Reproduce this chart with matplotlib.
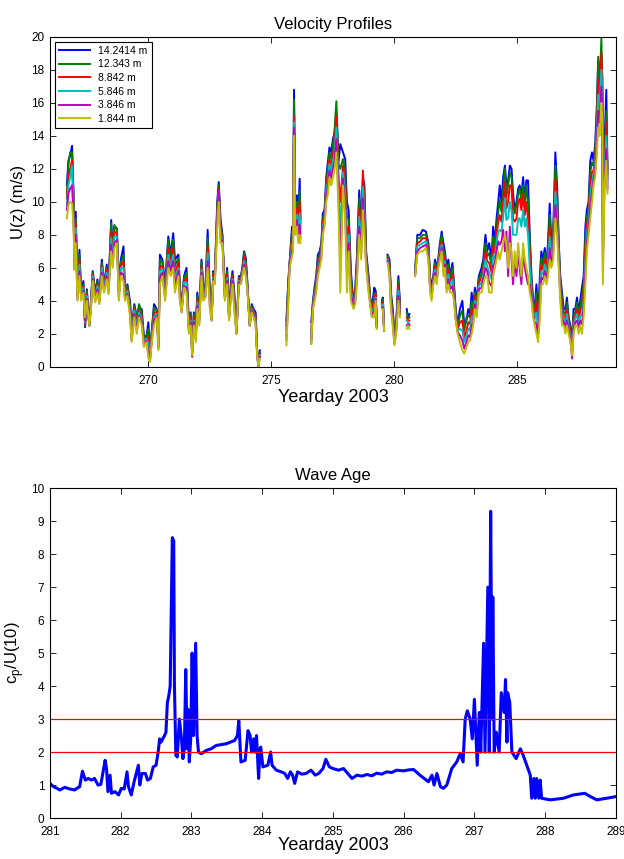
import numpy as np
import matplotlib
matplotlib.use("Agg")
import matplotlib.pyplot as plt

plt.rcParams['font.family'] = ['Liberation Sans', 'DejaVu Sans']

N = np.nan

# ---- top panel: wind speed at six heights ----
day = [266.69, 266.75, 266.82, 266.90, 266.96, 267.00, 267.05, 267.12, 267.20, 267.27,
       267.36, 267.43, 267.50, 267.60, 267.66, 267.74, 267.84, 267.93, 268.01, 268.11,
       268.20, 268.31, 268.38, 268.49, 268.55, 268.62, 268.72, 268.80, 268.88, 268.99,
       269.05, 269.15, 269.26, 269.32, 269.43, 269.53, 269.62, 269.73, 269.82, 269.93,
       270.00, 270.07, 270.14, 270.23, 270.34, 270.41, 270.47, 270.57, 270.68, 270.81,
       270.91, 271.01, 271.08, 271.22, 271.28, 271.35, 271.45, 271.55, 271.65, 271.72,
       271.78, 271.85, 271.93, 271.99, 272.07, 272.16, 272.23, 272.32, 272.41, 272.50,
       272.57, 272.64, 272.70, 272.80, 272.86, 272.93, 273.01, 273.11, 273.20, 273.28,
       273.35, 273.42, 273.49, 273.58, 273.68, 273.76, 273.82, 273.89, 273.96, 274.03,
       274.12, 274.20, 274.28, 274.36, 274.42, 274.47, 274.53, 275.00,
       275.61, 275.69, 275.74, 275.84, 275.88, 275.92, 275.97, 276.04, 276.09, 276.15, 276.18, 276.40,
       276.62, 276.69, 276.76, 276.82, 276.89, 276.96, 277.03, 277.09, 277.16, 277.23,
       277.30, 277.36, 277.43, 277.50, 277.57, 277.64, 277.73, 277.80, 277.91, 278.00,
       278.07, 278.14, 278.23, 278.34, 278.41, 278.47, 278.57, 278.65, 278.72, 278.78,
       278.85, 278.95, 279.01, 279.08, 279.18, 279.24, 279.28, 279.40,
       279.49, 279.53, 279.58, 279.65,
       279.72, 279.80, 279.86, 279.93, 280.00, 280.07, 280.16, 280.23, 280.35,
       280.50, 280.55, 280.61, 280.72,
       280.84, 280.93, 281.04, 281.15, 281.28, 281.38, 281.45, 281.51, 281.58, 281.65,
       281.72, 281.78, 281.85, 281.92, 281.99, 282.05, 282.12, 282.19, 282.26, 282.36,
       282.42, 282.49, 282.57, 282.66, 282.76, 282.84, 282.93, 283.00, 283.07, 283.14,
       283.20, 283.27, 283.34, 283.43, 283.54, 283.61, 283.70, 283.77, 283.85, 283.95,
       284.01, 284.08, 284.15, 284.22, 284.28, 284.35, 284.42, 284.49, 284.55, 284.62,
       284.69, 284.76, 284.82, 284.89, 284.96, 285.03, 285.09, 285.16, 285.23, 285.30,
       285.36, 285.43, 285.50, 285.57, 285.64, 285.70, 285.77, 285.84, 285.91, 285.97,
       286.04, 286.11, 286.18, 286.24, 286.31, 286.38, 286.45, 286.54, 286.61, 286.68,
       286.74, 286.81, 286.88, 286.95, 287.01, 287.08, 287.15, 287.22, 287.28, 287.35,
       287.42, 287.49, 287.55, 287.62, 287.69, 287.76, 287.82, 287.89, 287.96, 288.03,
       288.09, 288.16, 288.23, 288.28, 288.34, 288.41, 288.45, 288.47, 288.54, 288.61, 288.66]

u14 = [11.0, 12.5, 12.8, 13.4, 10.5, 6.2, 9.4, 4.5, 7.1, 4.5,
       5.2, 2.4, 4.7, 2.6, 3.8, 5.8, 4.5, 5.3, 4.3, 6.5,
       5.0, 6.2, 4.8, 8.9, 7.0, 8.5, 8.4, 5.0, 6.5, 7.3,
       4.5, 5.0, 3.9, 2.2, 3.8, 3.0, 3.6, 3.5, 1.8, 1.9,
       2.7, 0.8, 2.2, 3.8, 3.5, 1.5, 6.8, 6.5, 5.0, 7.9,
       6.8, 8.1, 6.5, 6.8, 5.0, 3.5, 5.5, 6.0, 2.5, 3.3,
       1.0, 3.3, 2.5, 4.5, 3.3, 6.5, 5.0, 4.8, 8.3, 4.5,
       3.0, 5.8, 5.5, 10.0, 11.2, 9.0, 8.0, 4.5, 6.0, 3.2,
       5.0, 5.8, 4.5, 2.2, 5.5, 5.5, 6.0, 7.0, 6.6, 5.0,
       2.6, 3.8, 3.5, 3.3, 1.0, 0.1, 1.0, N,
       2.8, 5.3, 6.3, 8.5, 8.3, 16.8, 9.5, 10.4, 9.0, 11.4, 9.0, N,
       2.7, 4.0, 4.9, 5.5, 6.8, 7.0, 7.5, 9.3, 9.5, 11.5,
       12.5, 13.3, 13.0, 13.8, 14.2, 15.5, 12.5, 13.5, 13.0, 12.6,
       10.0, 9.5, 5.8, 3.8, 4.8, 6.5, 10.7, 8.5, 11.5, 11.0,
       7.0, 5.5, 4.3, 3.5, 4.8, 4.6, 2.6, N,
       4.0, 4.2, 2.3, N,
       6.8, 6.5, 4.5, 3.5, 2.0, 2.5, 5.5, 3.8, N,
       3.5, 3.0, 3.2, N,
       5.8, 8.0, 8.0, 8.3, 8.2, 7.5, 5.5, 4.8, 5.5, 6.5,
       6.0, 6.5, 7.5, 8.2, 7.5, 7.0, 6.0, 6.5, 5.5, 6.3,
       5.0, 3.5, 2.5, 3.5, 4.0, 2.5, 2.8, 3.5, 3.2, 4.5,
       3.5, 4.8, 4.0, 5.5, 6.0, 6.5, 8.0, 7.0, 7.5, 6.5,
       8.5, 7.5, 9.0, 10.0, 11.0, 10.0, 11.5, 12.2, 11.0, 11.3,
       12.2, 12.0, 10.5, 9.5, 10.0, 10.8, 11.0, 10.3, 11.5, 10.0,
       11.3, 11.3, 8.0, 5.5, 4.0, 3.5, 5.0, 3.0, 5.5, 7.0,
       6.5, 7.2, 6.0, 7.5, 9.9, 7.5, 8.0, 13.0, 11.0, 7.5,
       5.5, 4.5, 3.5, 3.5, 4.2, 3.0, 2.5, 1.5, 3.5, 3.5,
       4.2, 3.3, 4.0, 4.8, 5.5, 8.5, 9.5, 10.0, 12.5, 13.0,
       12.5, 13.5, 16.0, 18.5, 17.5, 19.0, 17.5, 9.0, 13.5, 16.8, 12.0]

u12 = [10.5, 12.2, 13.0, 13.0, 10.2, 6.1, 9.0, 4.4, 6.8, 4.4,
       5.0, 2.5, 4.6, 2.6, 3.7, 5.7, 4.4, 5.2, 4.2, 6.3,
       4.9, 6.0, 4.7, 8.7, 6.8, 8.6, 8.3, 4.8, 6.3, 6.8,
       4.4, 4.9, 3.7, 2.1, 3.7, 2.9, 3.8, 3.3, 1.7, 1.8,
       2.3, 0.7, 2.1, 3.6, 3.4, 1.4, 6.5, 6.3, 4.8, 7.7,
       6.6, 7.7, 6.1, 6.6, 4.8, 3.5, 5.4, 5.7, 2.4, 3.2,
       0.9, 3.2, 2.3, 4.3, 3.2, 6.4, 4.8, 4.7, 7.8, 4.3,
       3.0, 5.7, 5.4, 9.7, 11.0, 8.7, 7.9, 4.4, 5.8, 3.1,
       4.8, 5.6, 4.3, 2.2, 5.4, 5.4, 5.9, 6.9, 6.4, 4.9,
       2.6, 3.7, 3.4, 3.1, 0.9, 0.1, 0.9, N,
       2.5, 5.1, 6.3, 8.2, 8.0, 16.2, 9.2, 10.0, 8.7, 10.7, 8.7, N,
       1.4, 3.9, 4.7, 5.3, 6.5, 6.8, 7.3, 9.0, 9.3, 11.2,
       12.1, 13.0, 12.6, 13.4, 14.4, 16.1, 12.3, 12.0, 12.6, 11.9,
       9.0, 9.0, 5.4, 3.7, 4.6, 6.2, 10.2, 8.1, 11.4, 10.4,
       6.8, 5.3, 4.2, 3.4, 4.4, 4.5, 2.5, N,
       3.9, 4.1, 2.3, N,
       6.7, 6.3, 4.3, 3.3, 1.9, 2.4, 5.2, 3.6, N,
       3.3, 2.9, 3.0, N,
       5.7, 7.8, 7.8, 8.0, 8.0, 7.3, 5.3, 4.6, 5.4, 6.3,
       5.8, 6.4, 7.3, 8.0, 7.1, 6.8, 5.7, 6.2, 5.3, 6.0,
       4.8, 3.4, 2.4, 3.1, 3.4, 2.2, 3.0, 3.1, 3.0, 4.0,
       3.3, 4.5, 3.8, 5.3, 5.7, 6.2, 7.5, 6.7, 6.9, 6.1,
       7.9, 7.2, 8.5, 9.4, 10.1, 9.4, 10.7, 12.0, 10.3, 11.0,
       11.8, 11.5, 10.0, 9.3, 9.8, 10.5, 10.8, 10.0, 11.0, 9.7,
       11.0, 10.0, 7.5, 5.2, 3.8, 3.3, 4.5, 2.7, 5.0, 6.6,
       6.2, 6.9, 5.8, 7.1, 9.2, 7.2, 7.7, 12.2, 10.4, 7.2,
       5.2, 4.1, 3.3, 3.2, 3.9, 2.8, 2.3, 1.3, 3.2, 3.3,
       3.9, 3.0, 3.7, 4.2, 5.0, 7.8, 9.0, 9.6, 11.8, 12.4,
       12.2, 13.1, 15.4, 18.8, 17.0, 19.9, 17.0, 8.2, 13.0, 15.5, 11.7]

u8 = [10.2, 11.5, 12.0, 12.5, 9.8, 6.0, 8.7, 4.3, 6.5, 4.3,
      4.9, 2.6, 4.4, 2.5, 3.6, 5.6, 4.3, 5.0, 4.1, 6.1,
      4.8, 5.9, 4.7, 8.2, 6.6, 8.2, 8.1, 4.6, 6.1, 6.4,
      4.3, 4.7, 3.5, 1.9, 3.5, 2.6, 3.4, 3.1, 1.6, 1.7,
      1.8, 0.6, 1.9, 3.3, 3.3, 1.3, 6.1, 6.1, 4.6, 7.2,
      6.3, 7.2, 5.7, 6.3, 4.6, 3.4, 5.2, 5.4, 2.3, 3.0,
      0.9, 3.0, 2.1, 4.1, 3.0, 6.1, 4.6, 4.6, 7.3, 4.1,
      2.9, 5.6, 5.3, 9.4, 10.8, 8.4, 7.8, 4.3, 5.6, 3.0,
      4.6, 5.5, 4.1, 2.1, 5.3, 5.3, 5.8, 6.7, 6.1, 4.8,
      2.5, 3.6, 3.3, 3.0, 0.9, 0.1, 0.8, N,
      2.2, 4.8, 6.2, 7.8, 7.8, 15.2, 8.9, 9.6, 8.4, 10.0, 8.4, N,
      2.2, 3.8, 4.5, 5.1, 6.3, 6.6, 7.1, 8.8, 9.1, 10.9,
      11.7, 12.6, 12.2, 12.9, 13.5, 15.2, 11.5, 10.0, 12.2, 11.2,
      7.8, 8.5, 5.1, 3.7, 4.4, 5.9, 9.6, 7.7, 11.9, 9.8,
      6.6, 5.1, 4.1, 3.3, 4.1, 4.4, 2.5, N,
      3.8, 3.9, 2.2, N,
      6.6, 6.1, 4.1, 3.1, 1.7, 2.3, 4.9, 3.5, N,
      3.0, 2.8, 2.8, N,
      5.6, 7.5, 7.6, 7.8, 7.8, 7.1, 5.1, 4.5, 5.3, 6.1,
      5.6, 6.3, 7.1, 7.6, 6.7, 6.6, 5.4, 5.9, 5.1, 5.6,
      4.6, 3.2, 2.3, 2.7, 2.8, 1.8, 2.2, 2.7, 2.6, 3.5,
      3.1, 4.3, 3.6, 5.1, 5.4, 5.9, 7.0, 6.4, 6.3, 5.7,
      7.3, 6.9, 8.0, 8.8, 9.2, 8.8, 9.9, 11.2, 9.6, 10.0,
      11.0, 11.0, 9.0, 8.8, 9.0, 10.0, 10.2, 9.5, 10.5, 9.2,
      10.0, 9.0, 7.0, 4.9, 3.6, 3.1, 3.9, 2.4, 4.5, 6.2,
      5.9, 6.5, 5.6, 6.7, 8.5, 6.9, 7.4, 11.4, 9.8, 6.9,
      4.9, 3.7, 3.1, 2.9, 3.5, 2.6, 2.1, 1.1, 2.9, 3.1,
      3.5, 2.8, 3.4, 3.7, 4.5, 7.1, 8.5, 9.2, 11.1, 11.8,
      11.9, 12.7, 14.8, 17.5, 16.3, 19.0, 16.5, 7.4, 12.5, 14.8, 11.4]

u5 = [9.8, 11.0, 11.5, 12.2, 9.5, 6.0, 8.4, 4.2, 6.2, 4.2,
      4.8, 2.7, 4.3, 2.5, 3.5, 5.5, 4.1, 4.9, 4.0, 6.0,
      4.7, 5.7, 4.6, 7.8, 6.4, 7.9, 7.9, 4.4, 6.0, 6.0,
      4.2, 4.6, 3.4, 1.8, 3.4, 2.4, 3.3, 2.9, 1.5, 1.7,
      1.4, 0.5, 1.8, 3.0, 3.2, 1.2, 5.8, 5.9, 4.4, 6.8,
      6.0, 6.8, 5.3, 6.0, 4.4, 3.4, 5.1, 5.1, 2.2, 2.8,
      0.8, 2.8, 1.9, 3.9, 2.8, 5.9, 4.4, 4.5, 6.9, 3.9,
      2.9, 5.4, 5.2, 9.1, 10.5, 8.1, 7.7, 4.2, 5.4, 3.0,
      4.4, 5.3, 3.9, 2.1, 5.2, 5.2, 5.7, 6.4, 5.9, 4.7,
      2.5, 3.5, 3.2, 2.8, 0.8, 0.0, 0.7, N,
      1.9, 4.5, 6.1, 7.4, 7.5, 14.8, 8.6, 9.2, 8.1, 9.3, 8.1, N,
      1.9, 3.7, 4.4, 4.9, 6.0, 6.4, 6.9, 8.5, 8.9, 10.6,
      11.3, 12.3, 11.8, 12.5, 13.0, 14.5, 11.0, 8.0, 11.8, 10.4,
      6.8, 8.0, 4.7, 3.6, 4.2, 5.6, 9.1, 7.3, 10.9, 9.2,
      6.4, 4.9, 4.0, 3.2, 3.7, 4.2, 2.4, N,
      3.7, 3.8, 2.2, N,
      6.5, 5.9, 3.9, 2.9, 1.6, 2.2, 4.6, 3.3, N,
      2.8, 2.7, 2.6, N,
      5.6, 7.3, 7.4, 7.5, 7.6, 6.9, 4.9, 4.3, 5.2, 5.9,
      5.4, 6.2, 6.9, 7.4, 6.3, 6.4, 5.1, 5.6, 4.9, 5.3,
      4.4, 3.1, 2.2, 2.3, 2.2, 1.5, 1.9, 2.3, 2.2, 3.0,
      2.9, 4.0, 3.4, 4.9, 5.1, 5.6, 6.5, 6.1, 5.7, 5.3,
      6.7, 6.6, 7.5, 8.2, 8.3, 8.2, 9.1, 10.2, 8.9, 9.0,
      10.0, 9.5, 8.0, 8.0, 8.0, 9.0, 9.0, 8.5, 9.5, 8.5,
      9.0, 8.0, 6.0, 4.6, 3.4, 2.9, 3.3, 2.1, 4.0, 5.8,
      5.6, 6.2, 5.4, 6.3, 7.9, 6.6, 7.1, 10.6, 9.2, 6.6,
      4.6, 3.3, 2.9, 2.6, 3.2, 2.4, 1.9, 0.9, 2.6, 2.9,
      3.2, 2.5, 3.1, 3.1, 4.0, 6.4, 8.0, 8.8, 10.4, 11.2,
      11.6, 12.3, 14.2, 16.5, 15.5, 18.0, 16.0, 6.6, 12.0, 14.0, 11.1]

u3 = [9.5, 10.5, 10.8, 11.0, 9.0, 5.9, 8.0, 4.1, 5.8, 4.1,
      4.6, 2.8, 4.1, 2.5, 3.4, 5.3, 4.0, 4.7, 3.9, 5.7,
      4.6, 5.5, 4.5, 7.4, 6.2, 7.5, 7.7, 4.2, 5.7, 5.6,
      4.1, 4.4, 3.2, 1.6, 3.2, 2.2, 3.1, 2.7, 1.3, 1.6,
      0.9, 0.4, 1.6, 2.8, 3.1, 1.1, 5.4, 5.7, 4.2, 6.4,
      5.8, 6.4, 4.9, 5.8, 4.2, 3.3, 4.9, 4.8, 2.1, 2.7,
      0.6, 2.7, 1.7, 3.7, 2.7, 5.7, 4.2, 4.3, 6.4, 3.7,
      2.8, 5.3, 5.1, 8.8, 10.7, 7.8, 7.6, 4.1, 5.2, 2.9,
      4.2, 5.2, 3.7, 2.0, 5.1, 5.1, 5.6, 6.2, 5.7, 4.6,
      2.5, 3.4, 3.1, 2.6, 0.8, 0.0, 0.6, N,
      1.6, 4.2, 6.1, 7.0, 7.2, 14.5, 8.3, 8.9, 7.8, 8.6, 7.8, N,
      1.6, 3.6, 4.2, 4.7, 5.8, 6.2, 6.7, 8.3, 8.7, 10.3,
      10.9, 11.9, 11.4, 12.0, 12.5, 13.8, 10.2, 6.0, 11.4, 9.7,
      5.6, 7.5, 4.4, 3.6, 4.0, 5.3, 8.5, 6.9, 10.2, 8.6,
      6.2, 4.7, 3.9, 3.1, 3.4, 4.1, 2.4, N,
      3.6, 3.6, 2.2, N,
      6.4, 5.7, 3.7, 2.7, 1.4, 2.1, 4.3, 3.2, N,
      2.5, 2.6, 2.5, N,
      5.5, 7.0, 7.2, 7.3, 7.4, 6.7, 4.7, 4.2, 5.1, 5.7,
      5.2, 6.1, 6.7, 7.2, 5.9, 6.2, 4.8, 5.3, 4.7, 4.9,
      4.2, 2.9, 2.1, 1.9, 1.6, 1.1, 1.5, 1.9, 1.8, 2.5,
      2.7, 3.8, 3.2, 4.7, 4.8, 5.3, 6.0, 5.8, 5.1, 4.9,
      6.1, 6.3, 7.0, 7.6, 7.4, 7.6, 8.3, 7.0, 8.2, 5.5,
      8.5, 6.5, 5.0, 6.5, 5.5, 7.0, 6.0, 5.0, 7.0, 6.0,
      5.5, 5.0, 5.0, 4.3, 3.2, 2.7, 2.6, 1.8, 3.5, 5.4,
      5.3, 5.8, 5.2, 5.9, 7.2, 6.3, 6.8, 9.8, 8.6, 6.3,
      4.3, 2.9, 2.7, 2.3, 2.8, 2.2, 1.7, 0.5, 2.3, 2.7,
      2.8, 2.3, 2.8, 2.6, 3.5, 5.7, 7.5, 8.4, 9.7, 10.6,
      11.3, 11.9, 13.6, 15.5, 14.8, 17.0, 15.5, 5.8, 11.5, 13.2, 10.8]

u1 = [9.0, 9.8, 10.0, 9.9, 8.5, 5.9, 7.5, 4.0, 5.5, 4.0,
      4.5, 3.0, 4.0, 2.5, 3.3, 5.2, 3.9, 4.5, 3.8, 5.5,
      4.5, 5.3, 4.4, 7.0, 6.0, 7.2, 7.5, 4.0, 5.5, 5.2,
      4.0, 4.3, 3.0, 1.5, 3.0, 2.0, 3.0, 2.5, 1.2, 1.5,
      0.5, 0.3, 1.5, 2.5, 3.0, 1.0, 5.0, 5.5, 4.0, 6.0,
      5.5, 6.0, 4.5, 5.5, 4.0, 3.3, 4.8, 4.5, 2.0, 2.5,
      0.7, 2.5, 1.5, 3.5, 2.5, 5.5, 4.0, 4.2, 6.0, 3.5,
      2.8, 5.2, 5.0, 8.5, 10.0, 7.5, 7.5, 4.0, 5.0, 2.8,
      4.0, 5.0, 3.5, 2.0, 5.0, 5.0, 5.5, 6.0, 5.5, 4.5,
      2.5, 3.3, 3.0, 2.5, 0.7, 0.0, 0.5, N,
      1.3, 4.0, 6.0, 6.7, 7.0, 14.0, 8.0, 8.5, 7.5, 8.0, 7.5, N,
      1.4, 3.5, 4.0, 4.5, 5.5, 6.0, 6.5, 8.0, 8.5, 10.0,
      10.5, 11.5, 11.0, 11.5, 12.0, 13.0, 9.5, 4.5, 11.0, 9.0,
      4.5, 7.0, 4.0, 3.5, 3.8, 5.0, 8.0, 6.5, 9.5, 8.0,
      6.0, 4.5, 3.8, 3.0, 3.0, 4.0, 2.3, N,
      3.5, 3.5, 2.2, N,
      6.3, 5.5, 3.5, 2.5, 1.3, 2.0, 4.0, 3.0, N,
      2.3, 2.5, 2.3, N,
      5.5, 6.8, 7.0, 7.0, 7.2, 6.5, 4.5, 4.0, 5.0, 5.5,
      5.0, 6.0, 6.5, 7.0, 5.5, 6.0, 4.5, 5.0, 4.5, 4.5,
      4.0, 2.8, 2.0, 1.5, 1.0, 0.8, 1.2, 1.5, 1.6, 2.0,
      2.5, 3.5, 3.0, 4.5, 4.5, 5.0, 5.5, 5.5, 4.5, 4.5,
      5.5, 6.0, 6.5, 7.0, 6.5, 7.0, 7.5, 8.0, 7.5, 6.0,
      7.5, 7.0, 5.5, 7.0, 6.0, 7.5, 6.5, 5.5, 7.5, 6.5,
      6.0, 5.5, 4.5, 4.0, 3.0, 2.5, 2.0, 1.5, 3.0, 5.0,
      5.0, 5.5, 5.0, 5.5, 6.5, 6.0, 6.5, 9.0, 8.0, 6.0,
      4.0, 2.5, 2.5, 2.0, 2.5, 2.0, 1.5, 0.7, 2.0, 2.5,
      2.5, 2.0, 2.5, 2.0, 3.0, 5.0, 7.0, 8.0, 9.0, 10.0,
      11.0, 11.5, 13.0, 14.5, 14.0, 16.0, 15.0, 5.0, 11.0, 12.5, 10.5]

heights = ['14.2414 m', '12.343 m', '8.842 m', '5.846 m', '3.846 m', '1.844 m']
colors = ['#0000ff', '#008000', '#ff0000', '#00bfbf', '#bf00bf', '#bfbf00']

# ---- bottom panel: wave age ----
wa_day = [281.00, 281.05, 281.10, 281.14, 281.21, 281.28, 281.35, 281.38, 281.42, 281.46,
          281.50, 281.54, 281.59, 281.63, 281.68, 281.72, 281.78, 281.80, 281.82, 281.85,
          281.87, 281.92, 281.97, 282.01, 282.05, 282.09, 282.11, 282.15, 282.19, 282.25,
          282.27, 282.30, 282.35, 282.38, 282.42, 282.46, 282.50, 282.53, 282.55, 282.57,
          282.62, 282.64, 282.66, 282.68, 282.70, 282.73, 282.75, 282.76, 282.78, 282.80,
          282.83, 282.86, 282.88, 282.90, 282.92, 282.94, 282.95, 282.97, 282.99, 283.01,
          283.03, 283.06, 283.08, 283.10, 283.14, 283.21, 283.28, 283.35, 283.49, 283.61,
          283.65, 283.67, 283.70, 283.76, 283.80, 283.83, 283.85, 283.88, 283.90, 283.92,
          283.95, 283.97, 283.98, 284.01, 284.08, 284.12, 284.14, 284.20, 284.27, 284.32,
          284.36, 284.40, 284.43, 284.46, 284.50, 284.56, 284.62, 284.69, 284.75, 284.80,
          284.86, 284.90, 284.95, 285.00, 285.08, 285.15, 285.27, 285.34, 285.41, 285.48,
          285.55, 285.62, 285.69, 285.76, 285.83, 285.90, 286.00, 286.07, 286.14, 286.23,
          286.35, 286.40, 286.43, 286.47, 286.52, 286.56, 286.61, 286.68, 286.75, 286.80,
          286.84, 286.87, 286.90, 286.94, 286.97, 287.00, 287.04, 287.07, 287.09, 287.13,
          287.15, 287.19, 287.21, 287.23, 287.25, 287.26, 287.28, 287.31, 287.35, 287.38,
          287.42, 287.44, 287.46, 287.47, 287.50, 287.53, 287.59, 287.65, 287.69, 287.74,
          287.79, 287.81, 287.84, 287.86, 287.88, 287.91, 287.93, 287.95, 288.07, 288.18,
          288.26, 288.40, 288.56, 288.64, 288.73, 288.87, 289.00]

wave_age = [1.05, 0.95, 0.90, 0.85, 0.93, 0.88, 0.85, 0.90, 0.95, 1.42,
            1.15, 1.20, 1.15, 1.20, 1.00, 1.02, 1.75, 1.50, 0.80, 1.30,
            0.75, 0.80, 0.70, 0.90, 0.88, 1.40, 0.95, 0.70, 1.10, 1.60,
            1.00, 1.35, 1.35, 1.15, 1.20, 1.55, 1.60, 2.00, 2.40, 2.30,
            2.50, 2.60, 3.50, 3.70, 4.00, 8.50, 8.40, 4.00, 1.90, 1.85,
            3.00, 2.40, 1.80, 2.10, 4.50, 2.10, 3.30, 1.70, 2.40, 5.00,
            2.50, 5.30, 2.50, 2.00, 1.95, 2.05, 2.10, 2.20, 2.25, 2.35,
            2.50, 2.95, 1.70, 1.75, 2.65, 2.50, 2.00, 2.40, 2.00, 2.50,
            1.20, 2.10, 2.15, 1.55, 1.60, 2.00, 1.60, 1.45, 1.40, 1.35,
            1.20, 1.40, 1.30, 1.05, 1.40, 1.33, 1.35, 1.45, 1.30, 1.35,
            1.50, 1.78, 1.55, 1.50, 1.45, 1.50, 1.20, 1.30, 1.27, 1.32,
            1.28, 1.36, 1.33, 1.40, 1.38, 1.45, 1.43, 1.46, 1.47, 1.30,
            1.10, 1.30, 1.00, 1.35, 0.95, 0.90, 1.00, 1.50, 1.70, 1.95,
            1.70, 3.00, 3.25, 3.00, 2.40, 3.60, 1.60, 3.20, 2.00, 5.30,
            2.00, 7.00, 2.00, 9.30, 3.00, 6.70, 2.00, 2.60, 2.00, 3.80,
            3.20, 4.20, 2.30, 3.80, 3.50, 2.00, 1.80, 2.10, 1.90, 1.60,
            1.30, 0.60, 1.20, 0.60, 1.20, 0.60, 1.15, 0.60, 0.55, 0.58,
            0.60, 0.70, 0.75, 0.65, 0.55, 0.60, 0.65]

thresholds = [2, 3]

fig = plt.figure(figsize=(6.24, 8.59), dpi=100)

ax1 = fig.add_axes([0.080, 0.573, 0.907, 0.384])
series = [u14, u12, u8, u5, u3, u1]
for vals, lab, col in zip(series, heights, colors):
    ax1.plot(day, vals, color=col, lw=1.4, label=lab)
ax1.set_xlim(266, 289)
ax1.set_ylim(0, 20)
ax1.set_xticks([270, 275, 280, 285])
ax1.set_yticks(range(0, 21, 2))
ax1.set_title('Velocity Profiles', fontsize=12)
ax1.set_xlabel('Yearday 2003', fontsize=13, labelpad=1)
ax1.set_ylabel('U(z) (m/s)', fontsize=12, labelpad=4)
leg = ax1.legend(loc='upper left', fontsize=7.5, fancybox=False, framealpha=1,
                 edgecolor='black', borderaxespad=0.45, labelspacing=0.35,
                 handlelength=3.0, borderpad=0.4)
leg.get_frame().set_linewidth(0.8)

ax2 = fig.add_axes([0.080, 0.0477, 0.907, 0.384])
ax2.plot(wa_day, wave_age, color='#0000ff', lw=2.2)
for t in thresholds:
    ax2.axhline(t, color='#ff0000', lw=0.9)
ax2.set_xlim(281, 289)
ax2.set_ylim(0, 10)
ax2.set_xticks(range(281, 290))
ax2.set_yticks(range(0, 11))
ax2.set_title('Wave Age', fontsize=12)
ax2.set_xlabel('Yearday 2003', fontsize=13, labelpad=-1)
ax2.set_ylabel('c$_\\mathregular{p}$/U(10)', fontsize=12, labelpad=4)

for ax in (ax1, ax2):
    ax.tick_params(direction='in', top=True, right=True, labelsize=8.5,
                   length=4, width=0.6)
    ax.tick_params(axis='x', pad=6)
    ax.tick_params(axis='y', pad=4)
    for s in ax.spines.values():
        s.set_linewidth(0.8)

fig.savefig('out.png', dpi=100)
